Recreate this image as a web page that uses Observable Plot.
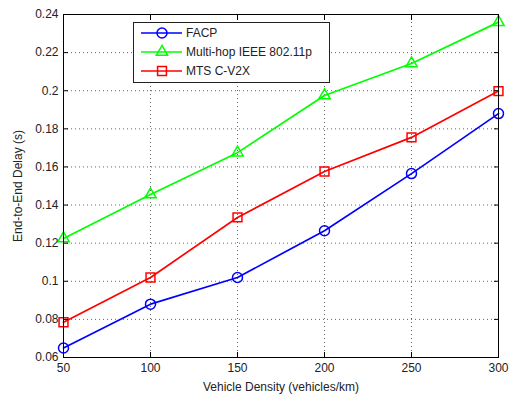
<!DOCTYPE html>
<html>
<head>
<meta charset="utf-8">
<script src="https://cdn.jsdelivr.net/npm/d3@7"></script>
<script src="https://cdn.jsdelivr.net/npm/@observablehq/plot@0.6"></script>
<style>
  html, body { margin: 0; padding: 0; background: #fff; }
  #chart { position: relative; width: 514px; height: 394px; }
</style>
</head>
<body>
<div id="chart"></div>
<script>
const density = [50, 100, 150, 200, 250, 300];
const facp = [0.065, 0.088, 0.102, 0.1265, 0.1565, 0.188];
const multihop = [0.1225, 0.1455, 0.1675, 0.1975, 0.2143, 0.236];
const mts = [0.0785, 0.102, 0.1335, 0.1576, 0.1755, 0.1998];
const seriesNames = ["FACP", "Multi-hop IEEE 802.11p", "MTS C-V2X"];
const seriesColors = ["#0000ff", "#00ff00", "#ff0000"];
const seriesSymbols = ["circle", "triangle", "square"];
const xTicks = [50, 100, 150, 200, 250, 300];
const yTicks = [0.06, 0.08, 0.1, 0.12, 0.14, 0.16, 0.18, 0.2, 0.22, 0.24];
const xLabel = "Vehicle Density (vehicles/km)";
const yLabel = "End-to-End Delay (s)";

const seriesValues = [facp, multihop, mts];
const rows = [];
seriesNames.forEach((name, i) => {
  density.forEach((d, j) => rows.push({series: name, x: d, y: seriesValues[i][j]}));
});

const fmtY = d => String(+d.toFixed(2));
const font = "Liberation Sans, Arial, Helvetica, sans-serif";
const gridStyle = {stroke: "#000", strokeOpacity: 0.6, strokeDasharray: "1,3", strokeWidth: 1};

const marks = [];
marks.push(Plot.gridX(xTicks, gridStyle));
marks.push(Plot.gridY(yTicks, gridStyle));
seriesNames.forEach((name, i) => {
  const data = rows.filter(r => r.series === name);
  marks.push(Plot.line(data, {x: "x", y: "y", stroke: seriesColors[i], strokeWidth: 1.7}));
  marks.push(Plot.dot(data, {x: "x", y: "y", stroke: seriesColors[i], fill: "none", strokeWidth: 1.5,
    symbol: seriesSymbols[i], r: seriesSymbols[i] === "triangle" ? 4.2 : 5}));
});
marks.push(Plot.frame({stroke: "#000", strokeWidth: 1}));
// inward ticks on all four sides
marks.push(Plot.axisX(xTicks, {anchor: "bottom", tickSize: -5, tickFormat: () => "", stroke: "#000", label: null}));
marks.push(Plot.axisX(xTicks, {anchor: "top", tickSize: -5, tickFormat: () => "", stroke: "#000", label: null}));
marks.push(Plot.axisY(yTicks, {anchor: "left", tickSize: -5, tickFormat: () => "", stroke: "#000", label: null}));
marks.push(Plot.axisY(yTicks, {anchor: "right", tickSize: -5, tickFormat: () => "", stroke: "#000", label: null}));
// labels
marks.push(Plot.axisX(xTicks, {anchor: "bottom", tickSize: 0, tickPadding: 6, fontSize: 12, fill: "#222",
  label: xLabel, labelAnchor: "center", labelOffset: 33, labelArrow: "none"}));
marks.push(Plot.axisY(yTicks, {anchor: "left", tickSize: 0, tickPadding: 5, tickFormat: fmtY, fontSize: 12, fill: "#222",
  label: yLabel, labelAnchor: "center", labelOffset: 50, labelArrow: "none"}));

const plot = Plot.plot({
  width: 514,
  height: 394,
  marginLeft: 63,
  marginRight: 16,
  marginTop: 14,
  marginBottom: 37,
  style: {fontFamily: font, fontSize: "12px", color: "#222", background: "#fff"},
  x: {domain: [50, 300], type: "linear"},
  y: {domain: [0.06, 0.24], type: "linear"},
  marks
});
document.getElementById("chart").appendChild(plot);

// legend box
const svg = d3.select(plot);
const lg = svg.append("g").attr("font-family", font).attr("font-size", 12).attr("text-anchor", "start");
const box = {x: 133, y: 22, w: 196, h: 60};
lg.append("rect").attr("x", box.x + 0.5).attr("y", box.y + 0.5).attr("width", box.w).attr("height", box.h)
  .attr("fill", "#fff").attr("stroke", "#222").attr("stroke-width", 1);
const symMap = {circle: d3.symbolCircle, triangle: d3.symbolTriangle, square: d3.symbolSquare};
seriesNames.forEach((name, i) => {
  const cy = box.y + 11 + i * 19;
  lg.append("line").attr("x1", box.x + 8).attr("x2", box.x + 49).attr("y1", cy).attr("y2", cy)
    .attr("stroke", seriesColors[i]).attr("stroke-width", 1.7);
  const r = seriesSymbols[i] === "triangle" ? 4.2 : 5;
  lg.append("path").attr("transform", `translate(${box.x + 29},${cy})`)
    .attr("d", d3.symbol(symMap[seriesSymbols[i]], r * r * Math.PI)())
    .attr("fill", "none").attr("stroke", seriesColors[i]).attr("stroke-width", 1.5);
  lg.append("text").attr("x", box.x + 53).attr("y", cy).attr("dy", "0.35em").attr("fill", "#222")
    .attr("text-anchor", "start").text(name);
});
</script>
</body>
</html>
